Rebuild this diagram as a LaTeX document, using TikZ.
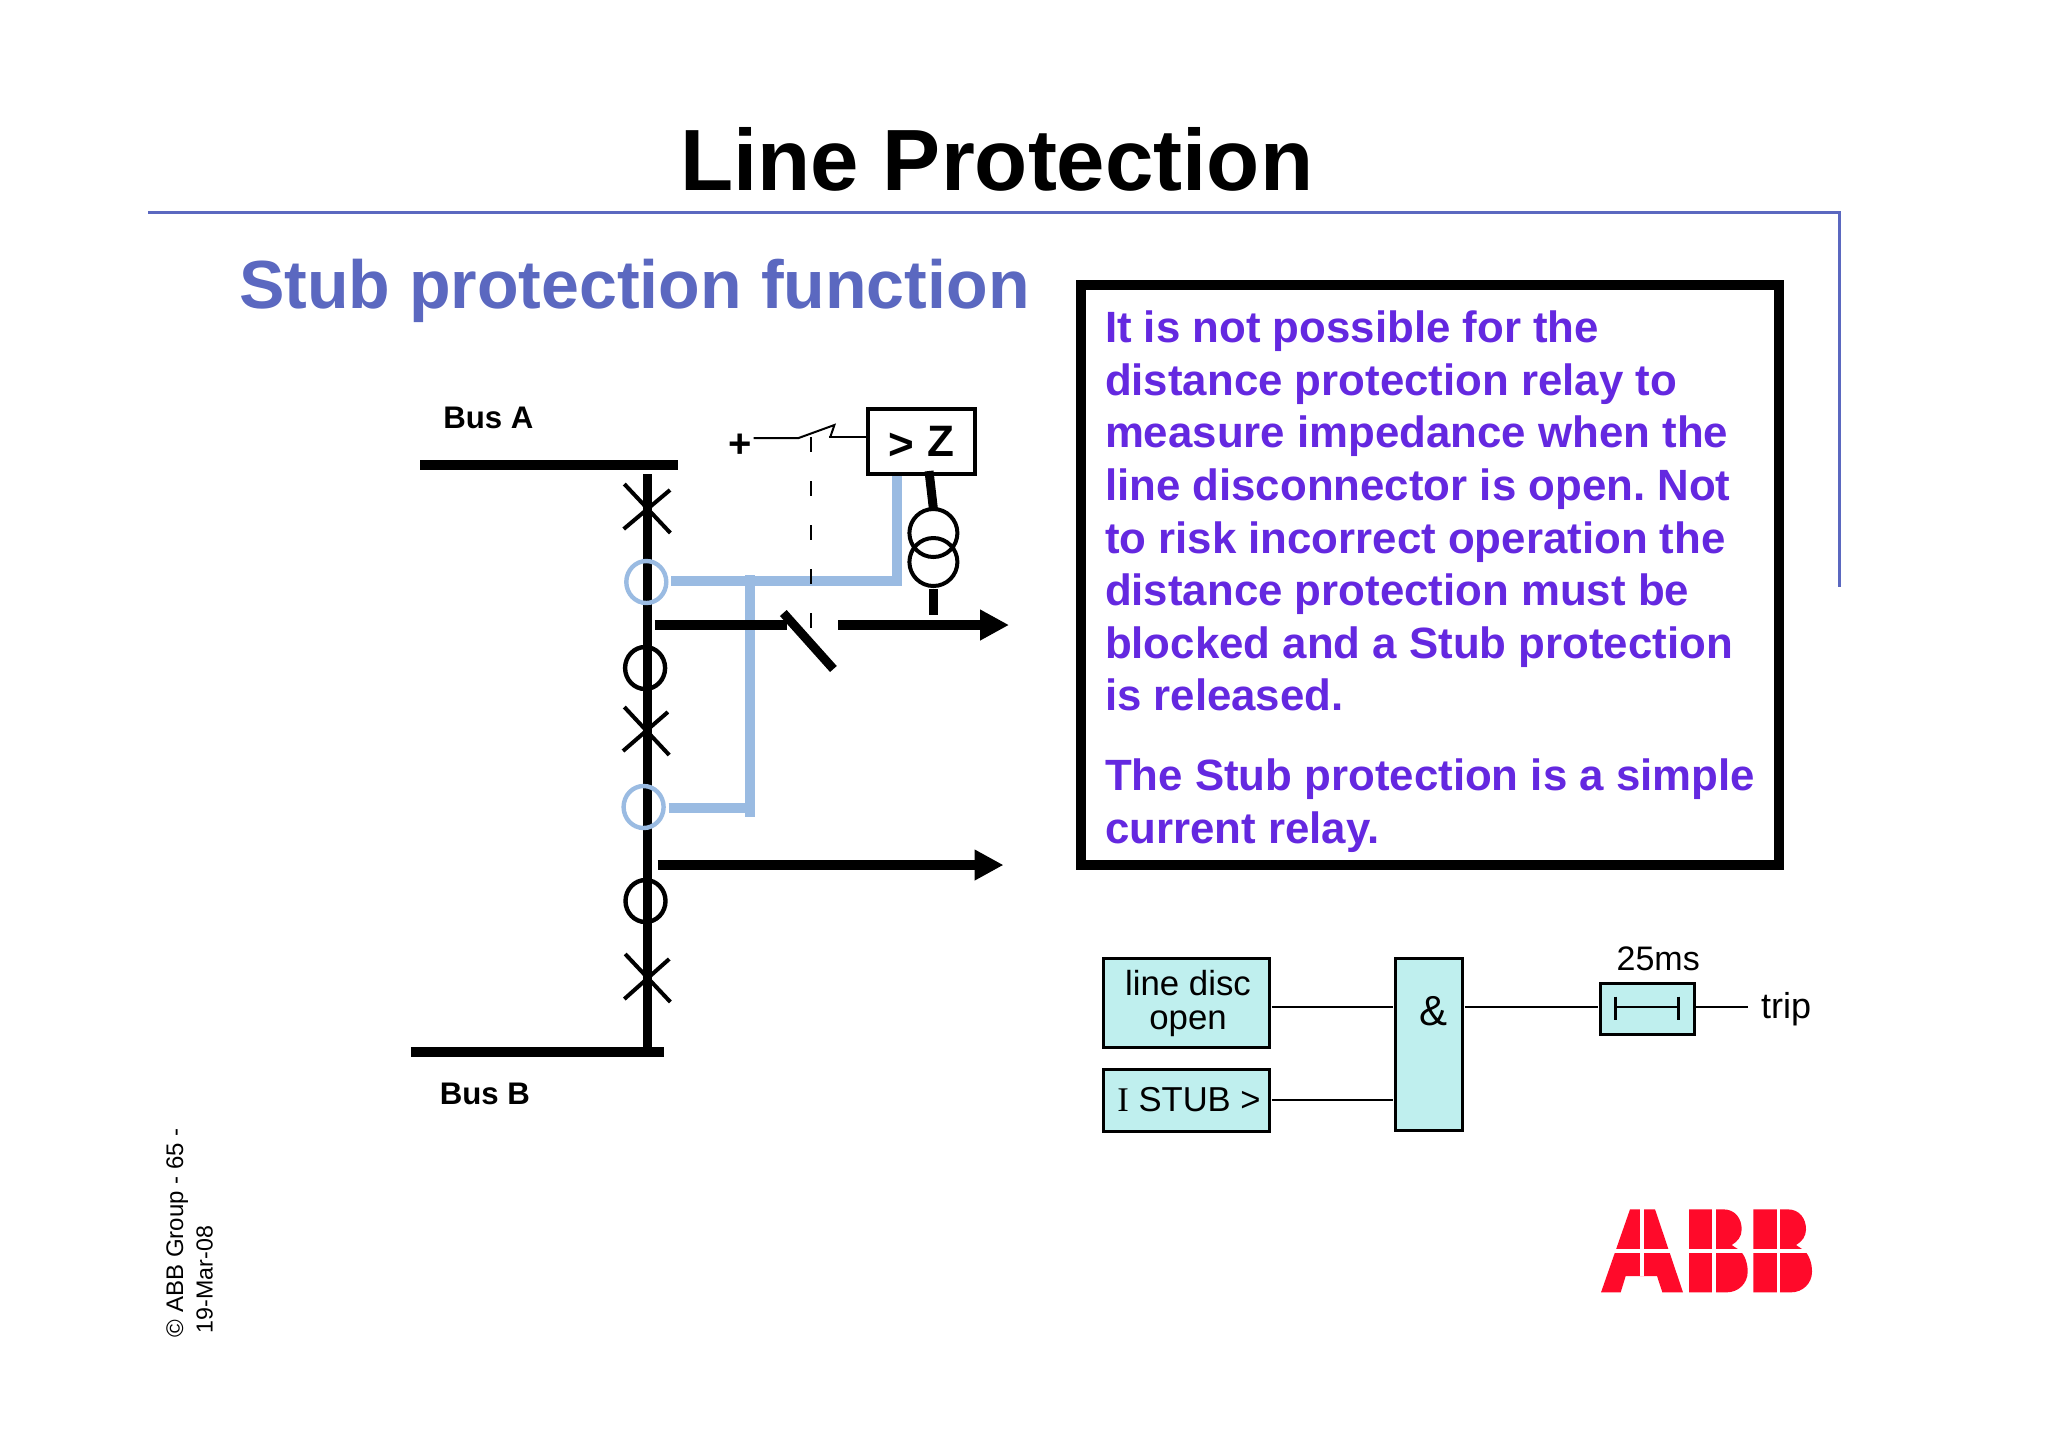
\documentclass[tikz,border=0pt]{standalone}
\usepackage{fontspec}
\setmainfont{Liberation Sans}
\newfontfamily\seriffont{Liberation Serif}
\usetikzlibrary{arrows.meta,shapes.geometric}
\newcommand{\pxfont}[2]{\fontsize{#1}{#2}\selectfont}
\definecolor{abbblue}{HTML}{5B68C0}
\definecolor{boxtext}{HTML}{6428E0}
\definecolor{ctblue}{HTML}{9ABBE2}
\definecolor{logicfill}{HTML}{BFEFEE}
\definecolor{abbred}{HTML}{FF0A2A}
\tikzset{
  every node/.style={outer sep=0pt},
  lbl/.style={inner sep=0pt,anchor=base west,text=black},
  busbar/.style={line width=5pt,black},
  feed/.style={line width=4.6pt,black},
  arrowline/.style={line width=4.6pt,black,-{Triangle[length=14.5pt,width=14.5pt]}},
  breaker/.style={line width=2pt,black},
  ct/.style={ellipse,draw,line width=2.2pt,minimum width=20pt,minimum height=21pt,inner sep=0pt},
  ctline/.style={line width=5pt,ctblue},
  thin wire/.style={line width=1pt,black},
  vt/.style={circle,draw,line width=2pt,minimum size=24pt,inner sep=0pt},
  logic/.style={draw,fill=logicfill,line width=1.5pt,inner sep=0pt,align=center},
  wire/.style={line width=1.2pt,black,shorten <=1pt,shorten >=1pt},
}
\begin{document}
\begin{tikzpicture}[x=0.5pt,y=-0.5pt]
\useasboundingbox (0,0) rectangle (2048,1447);
\fill[white] (0,0) rectangle (2048,1447);

% header
\draw[abbblue,line width=1.5pt] (148,212) -- (1839,212) -- (1839,587);
\node[lbl] (title) at (680,190) {\pxfont{43.5}{46}\bfseries Line Protection};
\node[lbl,text=abbblue] (subtitle) at (239,308.5) {\pxfont{34.05}{38}\bfseries Stub protection function};

% explanatory box
\node[draw,line width=5pt,anchor=north west,minimum width=349pt,minimum height=290pt,
      inner xsep=12pt,inner ysep=0pt,text width=325pt,align=left,text=boxtext,
      font=\pxfont{21.9}{26.3}\bfseries] (note) at (1081,285)
 {\spaceskip=0.278em\relax\xspaceskip=0.278em\relax\hyphenpenalty=10000\relax\rule{0pt}{22.5pt}It is not possible for the\\
  distance protection relay to\\
  measure impedance when the\\
  line disconnector is open. Not\\
  to risk incorrect operation the\\
  distance protection must be\\
  blocked and a Stub protection\\
  is released.\\[13.5pt]
  The Stub protection is a simple\\
  current relay.};

% bus labels
\node[lbl] (busa) at (443.4,428) {\pxfont{15.6}{18}\bfseries Bus A};
\node[lbl] (busb) at (439.8,1104) {\pxfont{15.6}{18}\bfseries Bus B};

% busbars and bay
\coordinate (baytop) at (647.1,474);
\coordinate (baybot) at (647.1,1052);
\draw[busbar] (420.4,465) -- (678.3,465);
\draw[busbar] (410.9,1052) -- (664.4,1052);
\draw[line width=4.6pt,black] (baytop) -- (baybot);

% breakers
\draw[breaker] (624.3,484) -- (670.4,533) (623.7,529) -- (670,490);
\draw[breaker] (624.3,707) -- (669.2,755) (623,751) -- (667.9,712);
\draw[breaker] (625.2,954) -- (670.4,1002) (624.3,999) -- (669.2,959);

% current transformers
\node[ct,draw=ctblue] (cta) at (646.3,582) {};
\node[ct,draw=ctblue] (ctb) at (643.6,807) {};
\node[ct] (ctc) at (645.1,668) {};
\node[ct] (ctd) at (645.5,901) {};

% relay
\coordinate (bend) at (896.8,581);
\coordinate (jtop) at (749.5,575);
\coordinate (jbot) at (749.5,817);
\coordinate (jlow) at (749.5,808);
\draw[ctline,line cap=butt] ([xshift=2.5pt]cta.east |- bend) -- (bend) -- (bend |- 0,471);
\draw[line width=5pt,ctblue] (jtop) -- (jbot);
\draw[ctline] ([xshift=2.5pt]ctb.east |- jlow) -- (jlow);

\node[draw,fill=white,line width=2pt,minimum width=53.5pt,minimum height=32.5pt,inner sep=0pt,anchor=north west] (relay) at (867.5,408.5) {};
\node[inner sep=0pt,text=black] (gt) at (901.5,446) {\pxfont{22}{24}\bfseries >};
\node[inner sep=0pt,text=black] (zed) at (941,441) {\pxfont{22}{24}\bfseries Z};

% voltage transformer
\node[vt] (vta) at (933.4,533) {};
\node[vt] (vtb) at (933.4,562) {};
\draw[line width=4.5pt,black] (929,471) -- (vta.north);
\draw[line width=4.5pt,black] (933.4,589) -- (933.4,615);

% aux switch
\node[inner sep=0pt,text=black] (plus) at (740,446) {\pxfont{20}{22}\bfseries +};
\coordinate (swa) at (798.6,438);
\coordinate (swb) at (834.4,425);
\coordinate (swc) at (830.3,437);
\coordinate (swd) at (828.8,437);
\draw[thin wire] (753.6,438) -- (swa) -- (swb) -- (swc);
\draw[thin wire] (swd) -- (relay.west |- swd);
\draw[thin wire,dash pattern=on 7.5pt off 14.5pt] (811,437) -- (811,628);

% feeders
\draw[feed] (654.9,625) -- (787.4,625);
\draw[line width=4.5pt,black] (783.3,613) -- (833.4,669);
\coordinate (fa) at (838.4,625);
\coordinate (fb) at (1009,625);
\coordinate (fc) at (657.5,865);
\coordinate (fd) at (1003.5,865);
\draw[arrowline] (fa) -- (fb);
\draw[arrowline] (fc) -- (fd);

% logic
\node[logic,anchor=north west,minimum width=83pt,minimum height=44.5pt] (disc) at (1103.5,958.5) {};
\node[inner sep=0pt,align=center,font=\pxfont{17.4}{17},text=black] (disclabel) at (1188,1003) {line disc\\open};
\node[logic,anchor=north west,minimum width=83pt,minimum height=31pt,font=\pxfont{17.3}{18}] (stub) at (1103.5,1069)
  {\hspace*{2.5pt}{\seriffont I} STUB >};
\node[logic,anchor=north west,minimum width=33.75pt,minimum height=86pt] (and) at (1395,958) {};
\node[inner sep=0pt,text=black] (amp) at (1433,1011) {\pxfont{21}{23}\&};
\node[logic,anchor=north west,minimum width=47pt,minimum height=25.3pt] (timer) at (1600,983.5) {};
\node[lbl] (delay) at (1616.6,970) {\pxfont{17}{19}25ms};
\node[lbl] (trip) at (1761,1018) {\pxfont{18}{19}trip};
\coordinate (ya) at (0,1007);
\coordinate (yb) at (0,1099.7);
\coordinate (tripend) at (1750,1007);
\draw[wire] (disc.east |- ya) -- (and.west |- ya);
\draw[wire] (stub.east |- yb) -- (and.west |- yb);
\draw[wire] (and.east |- ya) -- (timer.west |- ya);
\draw[wire] (timer.east |- ya) -- (tripend);
\draw[line width=1.2pt,black] (1615.6,996.7) -- (1615.6,1019.7) (1678.5,996.7) -- (1678.5,1019.7) (1615.6,1007) -- (1678.5,1007);

% footer
\node[lbl,rotate=90] (copy) at (183,1337) {\pxfont{12}{14}© ABB Group - 65 -};
\node[lbl,rotate=90] (date) at (212.7,1333) {\pxfont{11.6}{14}19-Mar-08};

% ABB logo
\begin{scope}[shift={(1580,1190)},x=0.16667pt,y=-0.16667pt]
  \fill[abbred] (63,307) -- (150,58) -- (225,58) -- (309,307) -- (247,307) -- (231,258) -- (137,258) -- (122,307) -- cycle;
  \fill[abbred] (327,58) -- (430,58) .. controls (465,58) and (485,85) .. (485,118) .. controls (485,140) and (472,155) .. (455,165) -- (478,180) .. controls (495,195) and (503,220) .. (503,245) .. controls (503,280) and (475,307) .. (440,307) -- (327,307) -- cycle;
  \fill[abbred] (520,58) -- (623,58) .. controls (658,58) and (678,85) .. (678,118) .. controls (678,140) and (665,155) .. (648,165) -- (671,180) .. controls (688,195) and (696,220) .. (696,245) .. controls (696,280) and (668,307) .. (633,307) -- (520,307) -- cycle;
  \fill[white] (40,178) rectangle (720,188);
  \fill[white] (181,50) rectangle (191,258);
  \fill[white] (397,50) rectangle (407,315);
  \fill[white] (590,50) rectangle (600,315);
\end{scope}
\end{tikzpicture}
\end{document}
